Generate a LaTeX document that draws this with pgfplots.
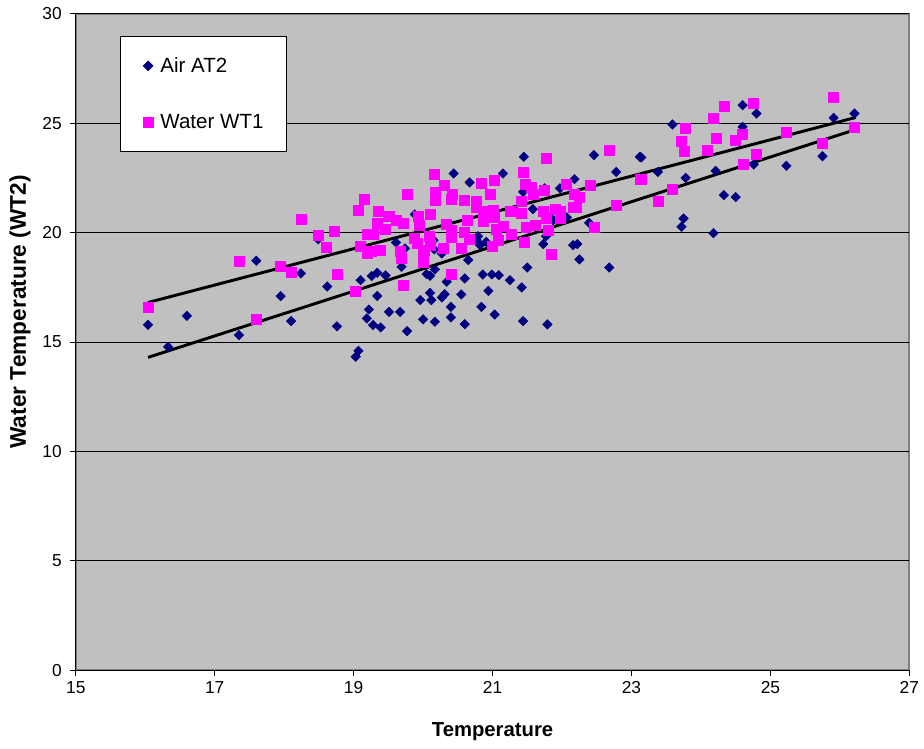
\documentclass[border=0pt]{standalone}
\usepackage{fontspec}
\setmainfont{Liberation Sans}
\usepackage{pgfplots}
\pgfplotsset{compat=1.18}
\definecolor{airc}{HTML}{000080}
\definecolor{watc}{HTML}{FF00FF}
\definecolor{bgc}{HTML}{C0C0C0}
\definecolor{brd}{HTML}{808080}
\begin{document}
\begin{tikzpicture}
\begin{axis}[
  scale only axis, width=625pt, height=492pt,
  xmin=15, xmax=27, ymin=0, ymax=30,
  xtick={15,17,...,27}, ytick={0,5,...,30},
  axis x line*=bottom, axis y line*=left,
  axis line style={black, line width=1pt},
  axis background/.style={fill=bgc, draw=brd, line width=1.5pt},
  ymajorgrids, major grid style={black, line width=0.75pt},
  tick align=outside, major tick length=4pt,
  tick style={black, line width=0.75pt},
  /pgf/number format/assume math mode=true,
  tick label style={font=\fontsize{13}{15}\selectfont},
  xticklabel style={yshift=-1pt},
  yticklabel style={xshift=-3pt},
  xlabel={\bfseries Temperature},
  ylabel={\bfseries Water Temperature (WT2)},
  xlabel style={font=\fontsize{15.2}{18}\selectfont, at={(axis description cs:0.5,0)}, anchor=center, yshift=-45.75pt},
  ylabel style={font=\fontsize{17}{20}\selectfont, at={(axis description cs:0,0.546)}, anchor=center, yshift=41.8pt},
  legend style={at={(axis description cs:0.053,0.966)}, anchor=north west,
    draw=black, fill=white, line width=0.75pt, font=\fontsize{15.4}{17}\selectfont,
    inner xsep=17pt, inner ysep=15.5pt, row sep=30pt,
    nodes={inner sep=0pt, anchor=west}},
  legend cell align=left,
  legend image code/.code={\draw[#1] plot coordinates {(0cm,0cm)};},
  /tikz/every odd column/.append style={column sep=5.5pt},
]
\addplot[only marks, mark=square*, mark size=2.5pt, mark options={rotate=45, fill=airc, draw=airc}] coordinates {
(16.04,15.79) (16.33,14.78) (16.60,16.20) (17.35,15.32) (17.60,18.72) (17.95,17.10)
(18.10,15.96) (18.24,18.14) (18.49,19.70) (18.62,17.54) (18.76,15.72) (19.03,14.33)
(19.07,14.60) (19.10,17.83) (19.19,16.08) (19.22,16.49) (19.26,18.02) (19.34,18.17)
(19.34,17.11) (19.46,18.05) (19.28,15.78) (19.39,15.67) (19.51,16.38) (19.67,16.38)
(19.77,15.50) (19.61,19.55) (19.74,19.28) (19.69,18.44) (19.88,20.84) (20.00,16.04)
(20.17,15.93) (20.17,18.32) (20.05,18.11) (20.10,18.03) (20.34,17.76) (20.10,17.25)
(19.96,16.92) (20.12,16.92) (20.27,17.04) (20.31,17.19) (20.55,17.18) (20.60,17.91)
(20.40,16.61) (20.40,16.13) (20.60,15.82) (20.84,16.61) (21.03,16.26) (20.94,17.34)
(20.86,18.09) (20.99,18.09) (21.09,18.06) (21.25,17.83) (20.77,19.66) (20.82,19.43)
(20.79,19.84) (20.91,19.58) (20.65,18.75) (20.27,19.05) (20.15,19.66) (20.16,19.24)
(21.42,17.50) (20.44,22.71) (20.67,22.30) (21.15,22.71) (21.45,23.47) (22.46,23.55)
(22.78,22.78) (23.12,23.47) (22.18,22.45) (21.75,22.03) (21.44,21.87) (21.97,22.03)
(21.58,21.08) (22.07,20.70) (21.87,20.58) (22.39,20.45) (21.77,19.84) (21.73,19.48)
(22.16,19.43) (22.22,19.48) (22.25,18.78) (22.68,18.41) (21.50,18.41) (21.44,15.96)
(21.79,15.81) (23.59,24.95) (24.60,25.83) (24.80,25.45) (24.60,24.84) (23.14,23.44)
(23.38,22.78) (23.78,22.51) (24.21,22.83) (24.76,23.12) (24.33,21.72) (24.50,21.63)
(23.75,20.65) (23.72,20.27) (24.18,19.98) (25.91,25.25) (26.21,25.45) (25.23,23.06)
(25.75,23.50)
};
\addlegendentry{Air AT2}
\addplot[only marks, mark=square*, mark size=3.75pt, mark options={fill=watc, draw=watc}] coordinates {
(16.04,16.58) (17.35,18.70) (17.60,16.04) (17.95,18.47) (18.10,18.21) (18.24,20.61)
(18.49,19.89) (18.61,19.33) (18.72,20.07) (18.76,18.09) (19.03,17.34) (19.09,19.36)
(19.19,19.08) (19.26,19.13) (19.39,19.20) (19.15,21.55) (19.07,21.03) (19.35,20.96)
(19.34,20.42) (19.46,20.16) (19.50,20.77) (19.20,19.94) (19.29,19.94) (20.16,22.66)
(19.77,21.78) (20.31,22.19) (20.17,21.49) (20.17,21.87) (20.42,21.76) (20.40,21.54)
(20.60,21.49) (20.77,21.44) (20.77,21.16) (20.84,22.25) (21.03,22.40) (20.96,21.76)
(19.52,20.76) (19.62,20.58) (19.72,20.45) (19.93,20.76) (19.95,20.35) (20.10,20.84)
(19.88,19.74) (19.92,19.51) (20.09,19.84) (20.10,19.43) (19.67,19.17) (19.69,18.82)
(20.00,19.08) (20.02,19.20) (20.00,18.63) (20.29,19.28) (20.34,20.38) (20.40,20.12)
(20.40,19.78) (20.55,19.28) (20.60,20.04) (20.66,19.69) (20.63,20.58) (20.86,20.54)
(21.03,20.70) (20.86,20.96) (21.01,21.03) (20.99,19.36) (21.08,19.66) (21.06,20.15)
(21.15,20.30) (21.27,19.92) (21.25,21.00) (20.40,18.09) (19.72,17.59) (22.68,23.78)
(21.78,23.40) (21.44,22.77) (21.47,22.22) (21.56,22.07) (21.58,21.76) (21.75,21.92)
(21.41,21.44) (21.42,20.88) (22.06,22.22) (22.40,22.16) (22.18,21.75) (22.25,21.64)
(22.21,21.18) (22.16,21.16) (21.73,20.96) (21.90,21.08) (21.97,20.96) (21.78,20.65)
(21.97,20.65) (21.49,20.24) (21.62,20.35) (21.80,20.12) (21.45,19.58) (21.85,19.01)
(22.46,20.27) (22.78,21.26) (23.12,22.43) (24.33,25.76) (24.18,25.23) (23.78,24.77)
(23.72,24.19) (23.76,23.73) (24.22,24.34) (24.09,23.78) (24.50,24.23) (24.60,24.51)
(24.80,23.59) (24.61,23.14) (24.76,25.94) (23.14,22.45) (23.59,21.99) (23.38,21.44)
(25.91,26.21) (25.23,24.61) (25.75,24.08) (26.21,24.80)
};
\addlegendentry{Water WT1}
\addplot[black, line width=2.2pt, forget plot] coordinates {(16.04,16.81) (26.23,25.27)};
\addplot[black, line width=2.2pt, forget plot] coordinates {(16.04,14.30) (26.23,24.72)};
\coordinate (ll) at (rel axis cs:0,0);
\coordinate (ur) at (rel axis cs:1,1);
\end{axis}
\pgfresetboundingbox
\path ([xshift=-56.8pt,yshift=-58.5pt]ll) rectangle ([xshift=11pt,yshift=10.5pt]ur);
\end{tikzpicture}
\end{document}
